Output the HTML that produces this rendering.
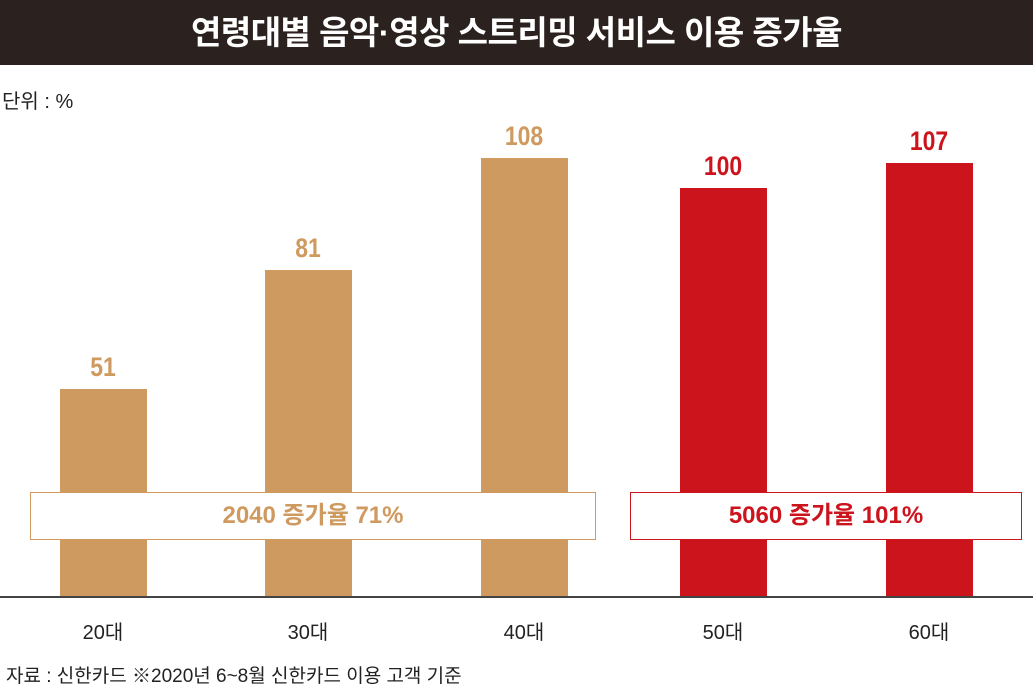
<!DOCTYPE html>
<html><head><meta charset="utf-8"><style>
body{margin:0;width:1033px;height:700px;background:#fff;position:relative;overflow:hidden;font-family:"Liberation Sans","Noto Sans CJK KR",sans-serif}
.t{position:absolute;left:0;top:0;width:1033px;height:65px;background:#2b211e;color:#fff;font-weight:bold;font-size:33px;text-align:center;line-height:65px;letter-spacing:-0.5px}
.a{position:absolute}
.bar{position:absolute;width:87px}
.tan{background:#cf9a5f}.red{background:#cc141d}
.lb{position:absolute;width:120px;text-align:center;font-weight:bold;font-size:27px;transform:scaleX(0.85)}
.xl{position:absolute;width:120px;text-align:center;font-size:20px;color:#222;top:616px}
.box{position:absolute;top:492px;height:46px;background:#fff;text-align:center;line-height:46px;font-weight:bold;font-size:24px}
</style></head><body>
<div class="t">연령대별 음악·영상 스트리밍 서비스 이용 증가율</div>
<div class="a" style="left:2px;top:85px;font-size:20px;color:#222">단위 : %</div>
<div class="bar tan" style="left:60px;top:389px;height:208px"></div>
<div class="bar tan" style="left:265px;top:270px;height:327px"></div>
<div class="bar tan" style="left:481px;top:158px;height:439px"></div>
<div class="bar red" style="left:680px;top:188px;height:409px"></div>
<div class="bar red" style="left:886px;top:163px;height:434px"></div>
<div class="lb" style="left:43px;top:352px;color:#cf9a5f">51</div>
<div class="lb" style="left:248px;top:233px;color:#cf9a5f">81</div>
<div class="lb" style="left:464px;top:121px;color:#cf9a5f">108</div>
<div class="lb" style="left:663px;top:151px;color:#cc141d">100</div>
<div class="lb" style="left:869px;top:126px;color:#cc141d">107</div>
<div class="box" style="left:30px;width:564px;border:1px solid #cf9a5f;color:#cf9a5f">2040 증가율 71%</div>
<div class="box" style="left:630px;width:390px;border:1px solid #cc141d;color:#cc141d">5060 증가율 101%</div>
<div class="a" style="left:0;top:596px;width:1033px;height:2px;background:#444"></div>
<div class="xl" style="left:43px">20대</div>
<div class="xl" style="left:248px">30대</div>
<div class="xl" style="left:464px">40대</div>
<div class="xl" style="left:663px">50대</div>
<div class="xl" style="left:869px">60대</div>
<div class="a" style="left:6px;top:661px;font-size:19px;color:#222">자료 : 신한카드 ※2020년 6~8월 신한카드 이용 고객 기준</div>
</body></html>
